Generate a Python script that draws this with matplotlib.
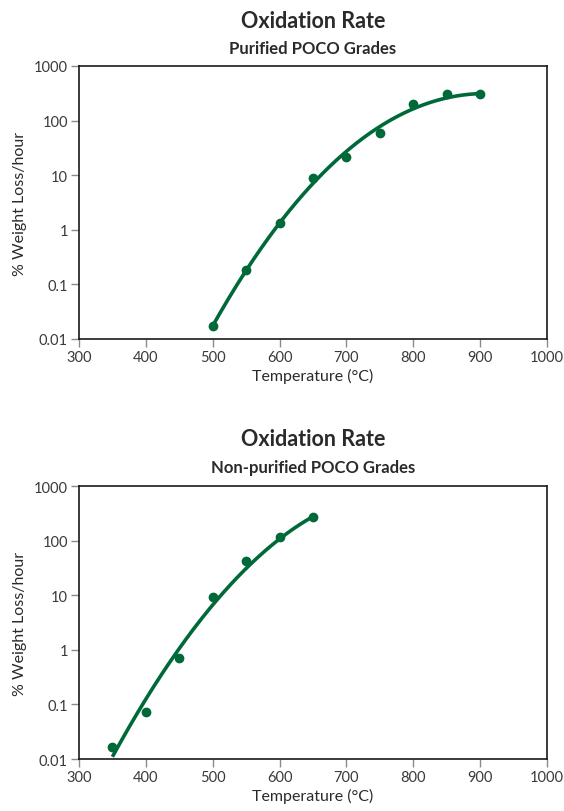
import numpy as np
import matplotlib
matplotlib.use("Agg")
import matplotlib.pyplot as plt
from matplotlib.ticker import FixedLocator, FixedFormatter

plt.rcParams['font.family'] = ['Lato', 'DejaVu Sans']

# Purified POCO grades
temp_purified = [500, 550, 600, 650, 700, 750, 800, 850, 900]
rate_purified = [0.0174, 0.186, 1.35, 9.0, 21.5, 60, 204, 307, 311]

# Non-purified POCO grades
temp_nonpurified = [350, 400, 450, 500, 550, 600, 650]
rate_nonpurified = [0.0167, 0.074, 0.72, 9.2, 42, 115, 275]

x_ticks = [300, 400, 500, 600, 700, 800, 900, 1000]
y_ticks = [0.01, 0.1, 1, 10, 100, 1000]
y_tick_labels = ["0.01", "0.1", "1", "10", "100", "1000"]

GREEN = "#00693a"

fig = plt.figure(figsize=(5.64, 8.12), dpi=100)


def draw_panel(rect, temps, rates, fit_deg, end_weight, subtitle, title_y, sub_y):
    ax = fig.add_axes(rect)
    ax.set_yscale("log")
    ax.set_xlim(300, 1000)
    ax.set_ylim(0.01, 1000)

    # smooth trend line (polynomial in log space, pinned near the last point)
    w = np.ones(len(temps))
    w[0] = end_weight[0]
    w[-1] = end_weight[1]
    coeffs = np.polyfit(temps, np.log10(rates), fit_deg, w=w)
    xs = np.linspace(min(temps), max(temps), 200)
    ax.plot(xs, 10 ** np.polyval(coeffs, xs), color=GREEN, lw=2.6,
            solid_capstyle="butt", zorder=3)
    ax.plot(temps, rates, "o", color=GREEN, ms=6, zorder=4)

    ax.xaxis.set_major_locator(FixedLocator(x_ticks))
    ax.yaxis.set_major_locator(FixedLocator(y_ticks))
    ax.yaxis.set_major_formatter(FixedFormatter(y_tick_labels))
    ax.yaxis.set_minor_locator(FixedLocator([]))
    ax.tick_params(axis="both", which="major", direction="out", length=6,
                   width=1, color="#8a8a8a", labelsize=10.5,
                   labelcolor="#3a3a3a", pad=2)
    for s in ax.spines.values():
        s.set_linewidth(1.2)
        s.set_color("#1a1a1a")

    ax.set_xlabel("Temperature (°C)", fontsize=11.5, color="#2a2a2a",
                  labelpad=3)
    ax.set_ylabel("% Weight Loss/hour", fontsize=11.5, color="#2a2a2a",
                  labelpad=5)

    cx = rect[0] + rect[2] / 2
    fig.text(cx, title_y, "Oxidation Rate", ha="center", va="center",
             fontsize=15.5, fontweight="bold", color="#2a2a2a")
    fig.text(cx, sub_y, subtitle, ha="center", va="center",
             fontsize=12, fontweight="bold", color="#2a2a2a")
    return ax


draw_panel([0.140, 0.5813, 0.830, 0.3362], temp_purified, rate_purified, 3,
           (6, 6), "Purified POCO Grades", 0.974, 0.940)
draw_panel([0.140, 0.0640, 0.830, 0.3362], temp_nonpurified, rate_nonpurified, 2,
           (1, 6), "Non-purified POCO Grades", 0.459, 0.424)

fig.savefig("out.png", dpi=100)
